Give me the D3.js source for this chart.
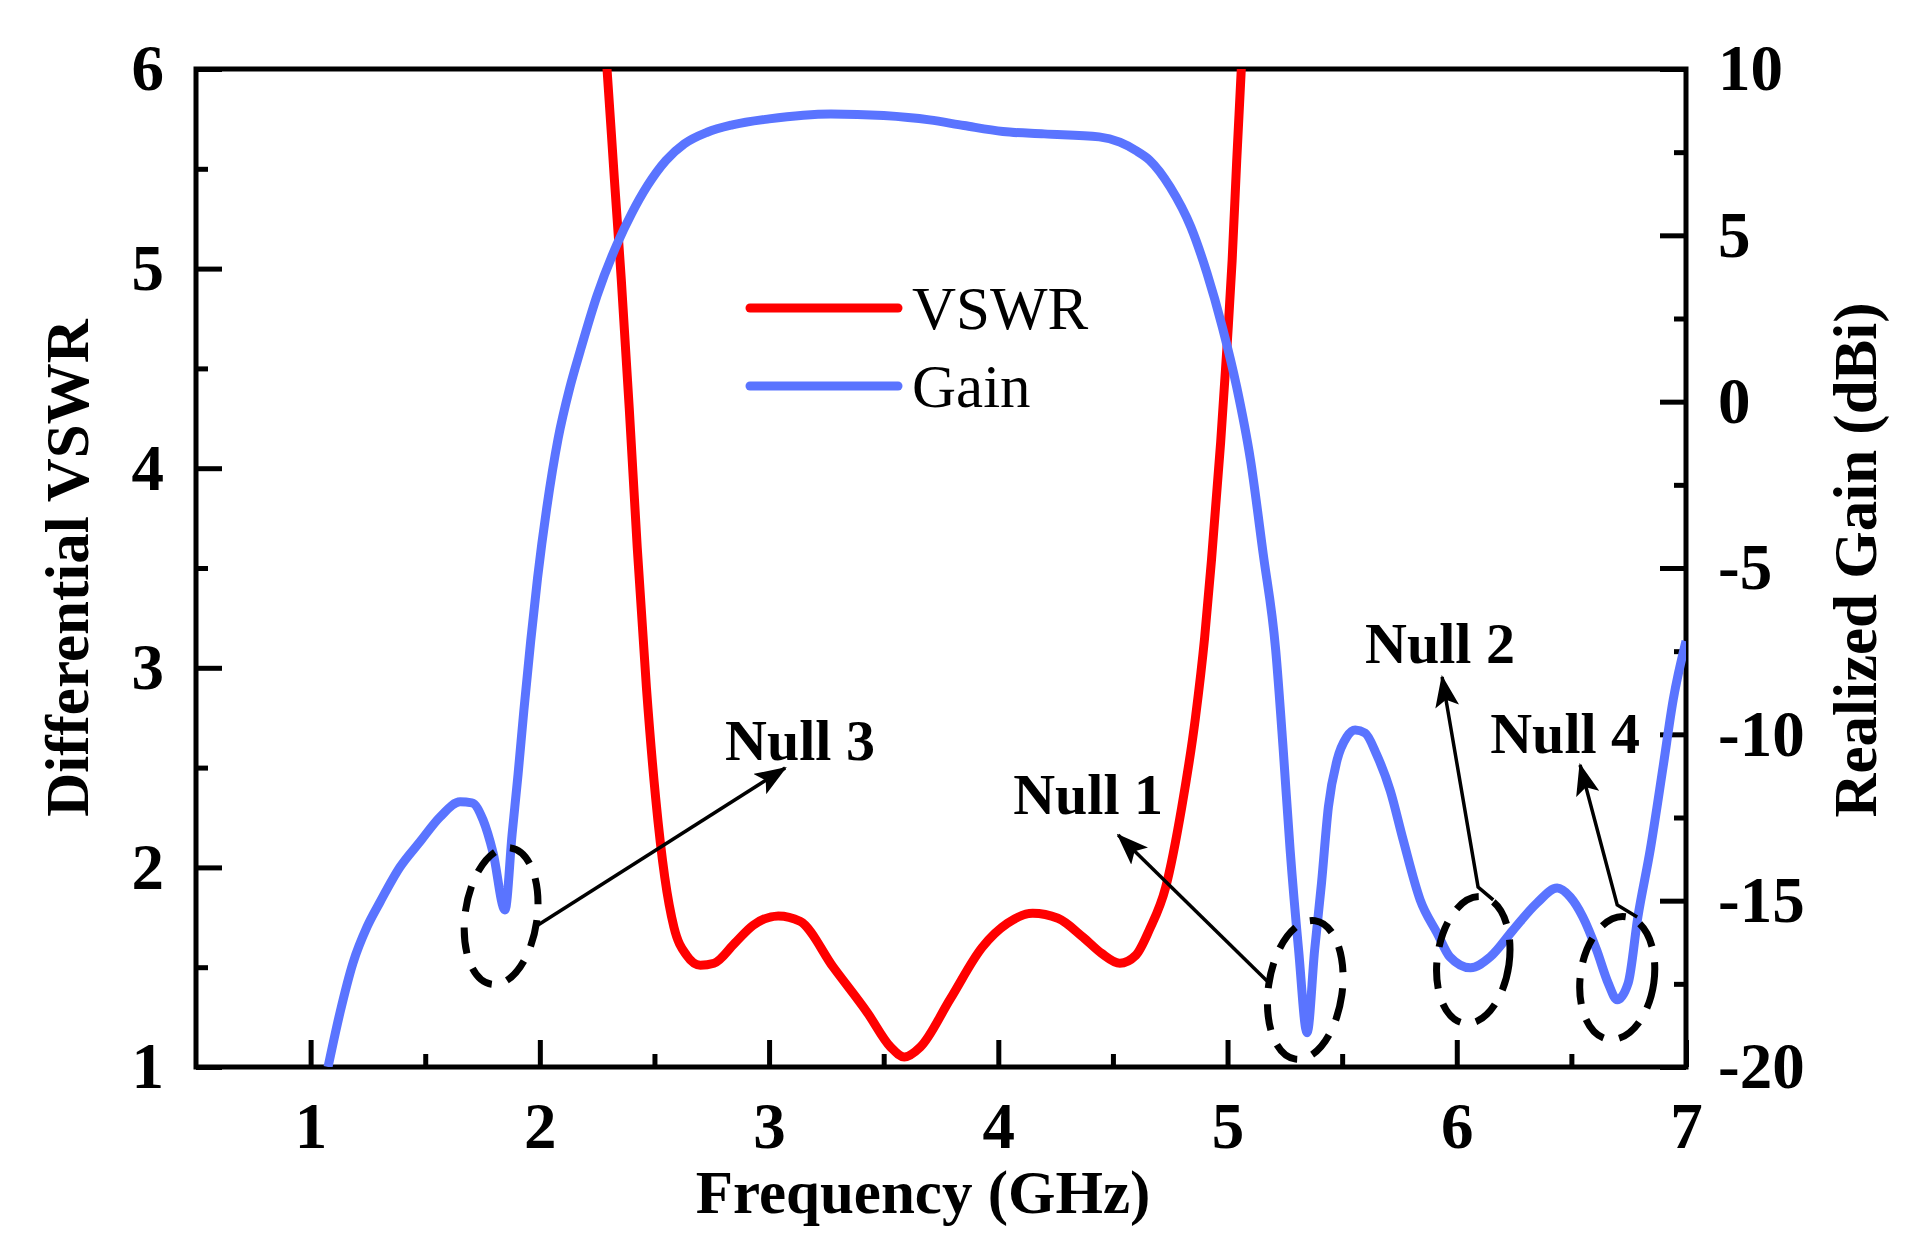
<!DOCTYPE html>
<html>
<head>
<meta charset="utf-8">
<script src="https://cdn.jsdelivr.net/npm/d3@7"></script>
<style>
  body { margin: 0; background: #fff; }
  text { font-family: "Liberation Serif", "Times New Roman", serif; fill: #000; }
</style>
</head>
<body>
<svg id="chart"></svg>
<script>
// VSWR curve (GHz, VSWR)
const vswrFreq = [2.27, 2.293, 2.325, 2.355, 2.39, 2.425, 2.465, 2.505, 2.545, 2.585, 2.64, 2.70, 2.76,
  2.85, 2.93, 3.04, 3.135, 3.28, 3.43, 3.53, 3.59, 3.66, 3.79, 3.93, 4.04, 4.15, 4.26, 4.37, 4.45, 4.53, 4.6,
  4.66, 4.73, 4.80, 4.86, 4.90, 4.93, 4.97, 5.00, 5.02, 5.04, 5.06, 5.08];
const vswrVal = [6.35, 6.0, 5.45, 4.95, 4.3, 3.6, 2.9, 2.35, 1.95, 1.70, 1.56, 1.51, 1.52,
  1.62, 1.71, 1.757, 1.73, 1.50, 1.27, 1.10, 1.05, 1.10, 1.34, 1.60, 1.72, 1.77, 1.745, 1.65, 1.57, 1.52, 1.56,
  1.69, 1.90, 2.3, 2.75, 3.15, 3.54, 4.13, 4.65, 5.04, 5.54, 6.0, 6.5];

// Realized gain curve (GHz, dBi)
const gainFreq = [1.076, 1.128, 1.185, 1.246, 1.303, 1.39, 1.477, 1.565, 1.652, 1.704, 1.752, 1.796, 1.848,
  1.879, 1.905, 1.93, 1.96, 1.99, 2.03, 2.08, 2.13, 2.175, 2.25, 2.337, 2.40, 2.47, 2.55, 2.63,
  2.73, 2.84, 3.0, 3.27, 3.5, 3.70, 3.85, 4.02, 4.2, 4.44, 4.53, 4.6, 4.66, 4.75, 4.84, 4.91, 4.977, 5.04,
  5.1, 5.155, 5.21, 5.243, 5.273, 5.31, 5.347, 5.38, 5.41, 5.44, 5.478, 5.52, 5.557, 5.6, 5.65, 5.71, 5.766,
  5.84, 5.914, 5.97, 6.06, 6.146, 6.246, 6.35, 6.438, 6.495, 6.55, 6.61, 6.66, 6.70, 6.748, 6.79, 6.844,
  6.9, 6.944, 7.0];
const gainVal = [-20, -18.37, -16.87, -15.79, -15.04, -13.99, -13.23, -12.48, -12.03, -12.06, -12.57, -13.56, -15.28,
  -13.0, -11.2, -9.3, -7.2, -5.3, -3.2, -1.1, 0.4, 1.5, 3.2, 4.74, 5.65, 6.5, 7.25, 7.75,
  8.1, 8.32, 8.5, 8.65, 8.6, 8.47, 8.3, 8.12, 8.05, 7.96, 7.8, 7.55, 7.26, 6.45, 5.25, 3.87, 2.25, 0.44,
  -1.75, -4.55, -7.46, -10.47, -13.47, -16.48, -18.97, -16.48, -14.47, -12.18, -10.77, -10.08, -9.87, -9.96, -10.6, -11.7, -13.17,
  -14.97, -15.97, -16.69, -17.02, -16.69, -15.88, -15.07, -14.62, -14.89, -15.49, -16.48, -17.47, -17.98, -17.47, -15.49, -13.47,
  -10.98, -8.97, -7.2];

const xTicks = [1, 2, 3, 4, 5, 6, 7];
const xMinor = [1.5, 2.5, 3.5, 4.5, 5.5, 6.5];
const vswrTicks = [1, 2, 3, 4, 5, 6];
const vswrMinor = [1.5, 2.5, 3.5, 4.5, 5.5];
const gainTicks = [-20, -15, -10, -5, 0, 5, 10];
const gainMinor = [-17.5, -12.5, -7.5, -2.5, 2.5, 7.5];

// null annotations, positions in (GHz, VSWR)
const nullLabels = ['Null 1', 'Null 2', 'Null 3', 'Null 4'];
const labelPos = [[4.065, 2.268], [5.6, 3.024], [2.808, 2.538], [6.146, 2.573]];
const arrowPaths = [
  [[5.177, 1.426], [4.523, 2.162]],
  [[6.159, 1.837], [6.093, 1.902], [5.936, 2.954]],
  [[1.992, 1.711], [3.07, 2.498]],
  [[6.787, 1.751], [6.70, 1.812], [6.538, 2.513]]
];
// ellipse centre (GHz, VSWR), radii (GHz, VSWR)
const ellipseCentre = [[5.339, 1.386], [6.072, 1.536], [1.831, 1.756], [6.70, 1.446]];
const ellipseRadius = [[0.161, 0.35], [0.157, 0.32], [0.157, 0.345], [0.161, 0.31]];

const W = 1906, H = 1255;
const margin = { top: 69, right: 220, bottom: 188, left: 196 };
const width = W - margin.left - margin.right;
const height = H - margin.top - margin.bottom;

const svg = d3.select('#chart').attr('width', W).attr('height', H);
const chart = svg.append('g').attr('transform', `translate(${margin.left},${margin.top})`);

const x = d3.scaleLinear().domain([0.5, 7]).range([0, width]);
const yV = d3.scaleLinear().domain([1, 6]).range([height, 0]);
const yG = d3.scaleLinear().domain([-20, 10]).range([height, 0]);

chart.append('clipPath').attr('id', 'clip')
  .append('rect').attr('width', width).attr('height', height);

// axes
function styleAxis(g, size) {
  g.select('.domain').remove();
  g.selectAll('line').attr('stroke', '#000').attr('stroke-width', 5);
  g.selectAll('text').attr('font-size', size).attr('font-weight', 'bold').attr('fill', '#000');
}

chart.append('g').attr('transform', `translate(0,${height})`)
  .call(d3.axisBottom(x).tickValues(xTicks).tickSize(-27).tickPadding(35).tickFormat(d3.format('d')))
  .call(g => styleAxis(g, 65));
chart.append('g').attr('transform', `translate(0,${height})`)
  .call(d3.axisBottom(x).tickValues(xMinor).tickSize(-13).tickFormat(''))
  .call(g => styleAxis(g, 65));

chart.append('g')
  .call(d3.axisLeft(yV).tickValues(vswrTicks).tickSize(-26).tickPadding(32).tickFormat(d3.format('d')))
  .call(g => styleAxis(g, 65));
chart.append('g')
  .call(d3.axisLeft(yV).tickValues(vswrMinor).tickSize(-12).tickFormat(''))
  .call(g => styleAxis(g, 65));

chart.append('g').attr('transform', `translate(${width},0)`)
  .call(d3.axisRight(yG).tickValues(gainTicks).tickSize(-26).tickPadding(32).tickFormat(d => String(d)))
  .call(g => styleAxis(g, 65));
chart.append('g').attr('transform', `translate(${width},0)`)
  .call(d3.axisRight(yG).tickValues(gainMinor).tickSize(-12).tickFormat(''))
  .call(g => styleAxis(g, 65));

chart.append('rect')
  .attr('width', width).attr('height', height)
  .attr('fill', 'none').attr('stroke', '#000').attr('stroke-width', 5);

// curves
const vswrData = vswrFreq.map((f, i) => [f, vswrVal[i]]);
const gainData = gainFreq.map((f, i) => [f, gainVal[i]]);

const lines = chart.append('g').attr('clip-path', 'url(#clip)');
lines.append('path')
  .datum(vswrData)
  .attr('fill', 'none').attr('stroke', '#ff0000').attr('stroke-width', 9)
  .attr('stroke-linejoin', 'round')
  .attr('d', d3.line().x(d => x(d[0])).y(d => yV(d[1])).curve(d3.curveMonotoneX));
lines.append('path')
  .datum(gainData)
  .attr('fill', 'none').attr('stroke', '#5a74ff').attr('stroke-width', 9)
  .attr('stroke-linejoin', 'round')
  .attr('d', d3.line().x(d => x(d[0])).y(d => yG(d[1])).curve(d3.curveMonotoneX));

// annotations
svg.append('defs').append('marker')
  .attr('id', 'head')
  .attr('markerUnits', 'userSpaceOnUse')
  .attr('viewBox', '0 0 32 24')
  .attr('refX', 30).attr('refY', 12)
  .attr('markerWidth', 32).attr('markerHeight', 24)
  .attr('orient', 'auto')
  .append('path').attr('d', 'M0,0 L32,12 L0,24 L7,12 Z').attr('fill', '#000');

const ann = chart.append('g');
ellipseCentre.forEach((c, i) => {
  const cx = x(c[0]), cy = yV(c[1]);
  const rx = x(c[0] + ellipseRadius[i][0]) - cx;
  const ry = cy - yV(c[1] + ellipseRadius[i][1]);
  ann.append('ellipse')
    .attr('cx', cx).attr('cy', cy).attr('rx', rx).attr('ry', ry)
    .attr('transform', `rotate(8,${cx},${cy})`)
    .attr('fill', 'none').attr('stroke', '#000').attr('stroke-width', 7)
    .attr('stroke-dasharray', '26 16');
});

arrowPaths.forEach(p => {
  ann.append('path')
    .attr('d', d3.line().x(d => x(d[0])).y(d => yV(d[1]))(p))
    .attr('fill', 'none').attr('stroke', '#000').attr('stroke-width', 3.5)
    .attr('marker-end', 'url(#head)');
});

nullLabels.forEach((t, i) => {
  ann.append('text')
    .attr('x', x(labelPos[i][0])).attr('y', yV(labelPos[i][1]))
    .attr('font-size', 58).attr('font-weight', 'bold')
    .text(t);
});

// legend
const legend = chart.append('g').attr('transform', 'translate(554,239)');
const legendItems = [['VSWR', '#ff0000'], ['Gain', '#5a74ff']];
legendItems.forEach((d, i) => {
  const row = legend.append('g').attr('transform', `translate(0,${i * 78})`);
  row.append('line').attr('x1', 0).attr('x2', 148)
    .attr('stroke', d[1]).attr('stroke-width', 9).attr('stroke-linecap', 'round');
  row.append('text').attr('x', 162).attr('y', 21)
    .attr('font-size', 61).text(d[0]);
});

// axis titles
svg.append('text')
  .attr('transform', `translate(88,${margin.top + height / 2}) rotate(-90)`)
  .attr('text-anchor', 'middle').attr('font-size', 61).attr('font-weight', 'bold')
  .text('Differential VSWR');
svg.append('text')
  .attr('transform', `translate(1876,560) rotate(-90)`)
  .attr('text-anchor', 'middle').attr('font-size', 61).attr('font-weight', 'bold')
  .text('Realized Gain (dBi)');
svg.append('text')
  .attr('x', 923).attr('y', 1213)
  .attr('text-anchor', 'middle').attr('font-size', 61).attr('font-weight', 'bold')
  .text('Frequency (GHz)');
</script>
</body>
</html>
